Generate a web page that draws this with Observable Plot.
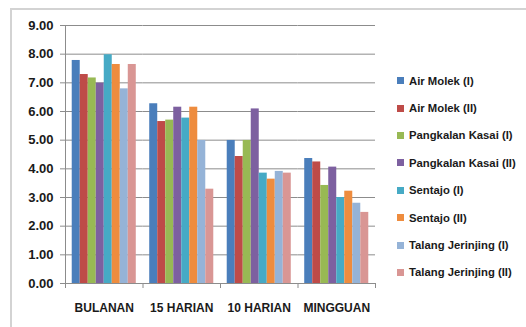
<!DOCTYPE html>
<html>
<head>
<meta charset="utf-8">
<script src="https://cdn.jsdelivr.net/npm/d3@7"></script>
<script src="https://cdn.jsdelivr.net/npm/@observablehq/plot@0.6"></script>
<style>
  html, body { margin: 0; padding: 0; background: #fff; width: 526px; height: 327px; overflow: hidden; }
  #wrap { position: relative; width: 526px; height: 327px; }
  #border { position: absolute; left: 10px; top: 8px; width: 600px; height: 400px; border: 2px solid #d3d3d3; box-sizing: border-box; }
  #chart { position: absolute; left: 0; top: 0; }
  #legend { position: absolute; left: 397px; top: 67px; font-family: "Liberation Sans", Arial, sans-serif; font-weight: bold; font-size: 11.3px; color: #1a1a1a; }
  .item { height: 27.4px; display: flex; align-items: center; white-space: nowrap; }
  .sw { width: 7px; height: 7px; margin-right: 5px; flex: none; }
</style>
</head>
<body>
<div id="wrap">
  <div id="border"></div>
  <div id="chart"></div>
  <div id="legend"></div>
</div>
<script>
const categories = ["BULANAN", "15 HARIAN", "10 HARIAN", "MINGGUAN"];
const series = ["Air Molek (I)", "Air Molek (II)", "Pangkalan Kasai (I)", "Pangkalan Kasai (II)", "Sentajo (I)", "Sentajo (II)", "Talang Jerinjing (I)", "Talang Jerinjing (II)"];
const airMolekI = [7.78, 6.27, 4.99, 4.36];
const airMolekII = [7.29, 5.65, 4.43, 4.24];
const pangkalanKasaiI = [7.17, 5.70, 4.99, 3.42];
const pangkalanKasaiII = [6.99, 6.15, 6.09, 4.06];
const sentajoI = [7.98, 5.77, 3.85, 3.00];
const sentajoII = [7.64, 6.15, 3.64, 3.22];
const talangJerinjingI = [6.79, 4.99, 3.91, 2.80];
const talangJerinjingII = [7.64, 3.29, 3.85, 2.48];
const yTicks = [0, 1, 2, 3, 4, 5, 6, 7, 8, 9];
const colors = ["#4A7EBB", "#BE4B48", "#98B954", "#7D60A0", "#46AAC5", "#EE8C3E", "#95B3D7", "#D99694"];

const seriesValues = [airMolekI, airMolekII, pangkalanKasaiI, pangkalanKasaiII, sentajoI, sentajoII, talangJerinjingI, talangJerinjingII];
const data = [];
categories.forEach((c, ci) => {
  series.forEach((s, si) => data.push({category: c, series: s, value: seriesValues[si][ci]}));
});

const gray = "#8c8c8c";
const chart = Plot.plot({
  width: 526,
  height: 327,
  marginLeft: 65,
  marginRight: 151,
  marginTop: 25,
  marginBottom: 44,
  style: {fontFamily: "'Liberation Sans', Arial, sans-serif", background: "transparent", color: "#1a1a1a"},
  fx: {domain: categories, padding: 0, round: false, label: null, axis: null},
  x: {domain: series, paddingInner: 0, paddingOuter: 0.84, round: false, axis: null},
  y: {domain: [0, 9], axis: null},
  color: {domain: series, range: colors},
  marks: [
    Plot.gridY(yTicks, {stroke: gray, strokeOpacity: 1}),
    Plot.barY(data, {fx: "category", x: "series", y: "value", fill: "series"}),
    Plot.ruleY([0], {stroke: gray}),
    Plot.axisY(yTicks, {tickFormat: d => d.toFixed(2), tickSize: 5, tickPadding: 7, fontSize: 13, fontWeight: "bold", stroke: gray, label: null}),
    Plot.axisFx({anchor: "bottom", tickSize: 0, tickPadding: 20, fontSize: 12, fontWeight: "bold", label: null})
  ]
});
document.getElementById("chart").appendChild(chart);

// axis lines and category boundary ticks from the plot's own scales
const fx = chart.scale("fx");
const y = chart.scale("y");
const svg = d3.select(chart);
const g = svg.append("g").attr("stroke", gray).attr("stroke-width", 1);
const x0 = fx.apply(categories[0]);
const y0 = y.apply(0);
g.append("line").attr("x1", x0 + 0.5).attr("x2", x0 + 0.5).attr("y1", y.apply(9)).attr("y2", y0);
const bounds = categories.map(c => fx.apply(c)).concat([fx.apply(categories[categories.length - 1]) + fx.bandwidth]);
bounds.forEach(b => {
  g.append("line").attr("x1", b + 0.5).attr("x2", b + 0.5).attr("y1", y0).attr("y2", y0 + 5);
});

const legend = d3.select("#legend");
series.forEach((s, i) => {
  const it = legend.append("div").attr("class", "item");
  it.append("div").attr("class", "sw").style("background", colors[i]);
  it.append("span").text(s);
});
</script>
</body>
</html>
